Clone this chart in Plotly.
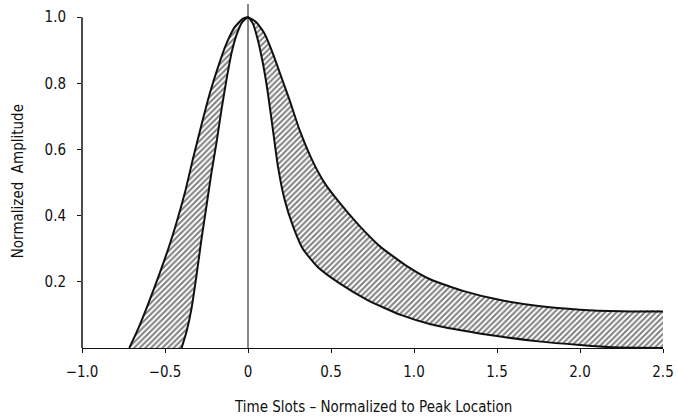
import plotly.graph_objects as go

# Outer (wide) pulse boundary
outer_x = [-0.715, -0.66, -0.60, -0.54, -0.48, -0.43, -0.38, -0.33, -0.28, -0.23, -0.18, -0.13,
           -0.08, -0.03, 0.0, 0.05, 0.10, 0.15, 0.20, 0.25, 0.31, 0.38, 0.46, 0.55, 0.67, 0.80,
           0.95, 1.1, 1.3, 1.52, 1.75, 2.0, 2.25, 2.5]
outer_y = [0.0, 0.06, 0.135, 0.215, 0.30, 0.38, 0.47, 0.575, 0.675, 0.77, 0.85, 0.92,
           0.97, 0.996, 1.0, 0.985, 0.95, 0.89, 0.82, 0.75, 0.66, 0.575, 0.50, 0.44, 0.37, 0.305,
           0.25, 0.207, 0.172, 0.145, 0.127, 0.116, 0.111, 0.11]

# Inner (narrow) pulse boundary
inner_x = [-0.40, -0.37, -0.34, -0.31, -0.28, -0.25, -0.22, -0.19, -0.16, -0.13, -0.10,
           -0.07, -0.035, 0.0, 0.03, 0.06, 0.09, 0.12, 0.15, 0.18, 0.22, 0.27, 0.33,
           0.42, 0.55, 0.72, 0.92, 1.1, 1.3, 1.5, 1.75, 2.0, 2.2, 2.5]
inner_y = [0.0, 0.05, 0.12, 0.22, 0.33, 0.43, 0.53, 0.62, 0.72, 0.81, 0.89,
           0.945, 0.985, 1.0, 0.98, 0.93, 0.86, 0.77, 0.66, 0.55, 0.45, 0.37, 0.30,
           0.245, 0.196, 0.145, 0.10, 0.072, 0.052, 0.036, 0.02, 0.009, 0.002, 0.0]

x_tickvals = [-1.0, -0.5, 0.0, 0.5, 1.0, 1.5, 2.0, 2.5]
x_ticktext = ["\u22121.0", "\u22120.5", "0", "0.5", "1.0", "1.5", "2.0", "2.5"]
y_tickvals = [0.2, 0.4, 0.6, 0.8, 1.0]
y_ticktext = ["0.2", "0.4", "0.6", "0.8", "1.0"]

FONT = "Liberation Sans Narrow, DejaVu Sans Condensed, Arial Narrow, sans-serif"
INK = "#111111"

fig = go.Figure()

# hatched band between the two pulses
band_x = outer_x + inner_x[::-1]
band_y = outer_y + inner_y[::-1]
fig.add_trace(go.Scatter(
    x=band_x, y=band_y, mode="lines", fill="toself",
    line=dict(width=0, color="rgba(0,0,0,0)", shape="spline", smoothing=0.5),
    fillcolor="white",
    fillpattern=dict(shape="/", fgcolor="#000000", bgcolor="white", size=4, solidity=0.5),
    hoverinfo="skip", showlegend=False,
))

for xs, ys in [(outer_x, outer_y), (inner_x, inner_y)]:
    fig.add_trace(go.Scatter(
        x=xs, y=ys, mode="lines",
        line=dict(color=INK, width=2, shape="spline", smoothing=0.5),
        showlegend=False, hoverinfo="skip",
    ))

# vertical reference line at the peak location
fig.add_shape(type="line", xref="x", yref="paper", x0=0, x1=0, y0=0, y1=1,
              line=dict(color=INK, width=1))
# y axis line (0 to 1.0)
fig.add_shape(type="line", xref="paper", yref="y", x0=0, x1=0, y0=0, y1=1.0,
              line=dict(color=INK, width=1.5))

fig.update_layout(
    width=678, height=420,
    margin=dict(l=82, r=13, t=4, b=72),
    paper_bgcolor="white", plot_bgcolor="white",
    font=dict(family=FONT, size=15, color=INK),
    xaxis=dict(range=[-1.0, 2.5], tickvals=x_tickvals, ticktext=x_ticktext,
               showgrid=False, zeroline=False, showline=True, linecolor=INK, linewidth=1.2,
               ticks="outside", ticklen=4, tickcolor=INK, ticklabelstandoff=6),
    yaxis=dict(range=[0, 1.04], tickvals=y_tickvals, ticktext=y_ticktext,
               showgrid=False, zeroline=False, showline=False,
               ticks="outside", ticklen=4, tickcolor=INK, ticklabelstandoff=8),
    annotations=[
        dict(text="Time Slots \u2013 Normalized to Peak Location", xref="paper", yref="paper",
             x=0.5, y=-0.1715, xanchor="center", yanchor="middle", showarrow=False,
             font=dict(family=FONT, size=15, color=INK)),
        dict(text="Normalized  Amplitude", xref="paper", yref="paper",
             x=-0.11, y=0.485, xanchor="center", yanchor="middle", textangle=-90,
             showarrow=False, font=dict(family=FONT, size=15, color=INK)),
    ],
)

fig.write_html("out.html", config={"displayModeBar": False},
               post_script="document.body.style.margin='0px';")
